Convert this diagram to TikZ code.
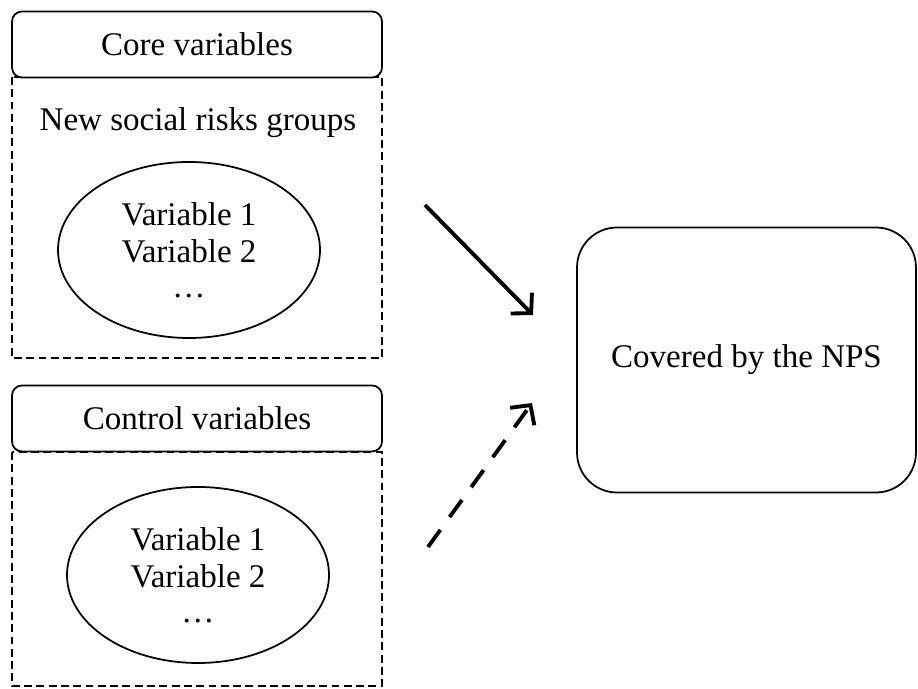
\documentclass[tikz,border=0pt]{standalone}
\usepackage{fontspec}
\setmainfont{Liberation Serif}
\usetikzlibrary{shapes.geometric,arrows.meta}
\tikzset{
	header/.style={draw, rounded corners=0.2cm, fill=white, minimum width=7.4cm, minimum height=1.32cm, line width=1pt},
	group/.style={draw, line width=0.8pt, dash pattern=on 4.5pt off 2.5pt},
	varset/.style={draw, ellipse, minimum width=5.24cm, minimum height=3.52cm, inner sep=0pt, align=center, line width=1pt},
	outcome/.style={draw, rounded corners=0.8cm, minimum width=6.78cm, minimum height=5.3cm, line width=1pt},
	effect/.style={line width=2.2pt, -{Straight Barb[length=8pt,width=17pt]}}
}
\begin{document}
\begin{tikzpicture}[font=\fontsize{18.8}{21.5}\selectfont]
				\useasboundingbox (0,0) rectangle (18.36,13.78);
				% dashed groups
				\draw[group] (0.24,12.24) rectangle (7.64,6.62);
				\draw[group] (0.24,4.74) rectangle (7.64,0.06);
				\node[header] (core) at (3.94,12.89) {Core variables};
				\node[header] (control) at (3.94,5.41) {Control variables};
				\node (nsr) at (3.96,11.32) {New social risks groups};
				\node[varset] (corevars) at (3.78,8.78) {Variable 1\\Variable 2\\[-2pt]\ldots};
				\node[varset] (controlvars) at (3.96,2.28) {Variable 1\\Variable 2\\[-2pt]\ldots};
				\node[outcome] (nps) at (14.93,6.58) {Covered by the NPS};
				% effects
				\coordinate (c1) at (8.5,9.68);
				\coordinate (c2) at (10.66,7.48);
				\coordinate (d1) at (8.56,2.84);
				\coordinate (d2) at (10.64,5.72);
				\draw[effect] (c1)--(c2);
				\draw[effect, dash pattern=on 12pt off 9pt] (d1)--(d2);
				\end{tikzpicture}
\end{document}
